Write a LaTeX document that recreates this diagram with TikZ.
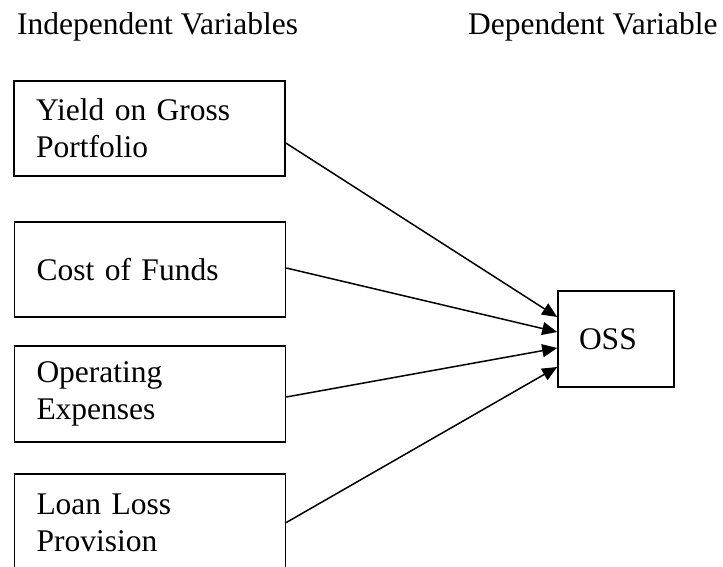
\documentclass[tikz,border=0pt]{standalone}
\usepackage{fontspec}
\setmainfont{Liberation Serif}
\usetikzlibrary{arrows.meta}
\tikzset{
  varbox/.style={draw, line width=1.6pt, rectangle, align=left, anchor=center,
    inner xsep=22pt, inner ysep=0pt, text width=227pt,
    minimum width=271pt, font=\fontsize{31.5}{37}\selectfont},
  ossbox/.style={varbox, inner xsep=21pt, text width=74pt, minimum width=116pt},
  heading/.style={anchor=base west, inner sep=0pt, font=\fontsize{31.5}{37}\selectfont},
  link/.style={line width=1.5pt, -{Triangle[length=15pt,width=13pt]}}
}
\begin{document}
\begin{tikzpicture}[x=1pt, y=-1pt]
  \useasboundingbox (0,0) rectangle (723,567);

  % column headings
  \node[heading] (hind) at (17,35) {Independent Variables};
  \node[heading] (hdep) at (468,35) {Dependent Variable};

  % independent variables
  \node[varbox, minimum height=95pt] (b1) at (149.5,128.5) {Yield on Gross\\Portfolio};
  \node[varbox, minimum height=95pt] (b2) at (150,269.5) {Cost of Funds};
  \node[varbox, minimum height=96pt] (b3) at (150,394) {Operating\\Expenses};
  \node[varbox, minimum height=97pt] (b4) at (150,522.5) {Loan Loss\\Provision};

  % dependent variable
  \node[ossbox, minimum height=96pt] (oss) at (616,339) {OSS};

  % effects
  \draw[link] ([yshift=-14.5pt]b1.east) -- ([yshift=22pt]oss.west);
  \draw[link] ([yshift=1.5pt]b2.east) -- ([yshift=7pt]oss.west);
  \draw[link] ([yshift=-3pt]b3.east) -- ([yshift=-9pt]oss.west);
  \draw[link] (b4.east) -- ([yshift=-28pt]oss.west);
\end{tikzpicture}
\end{document}
